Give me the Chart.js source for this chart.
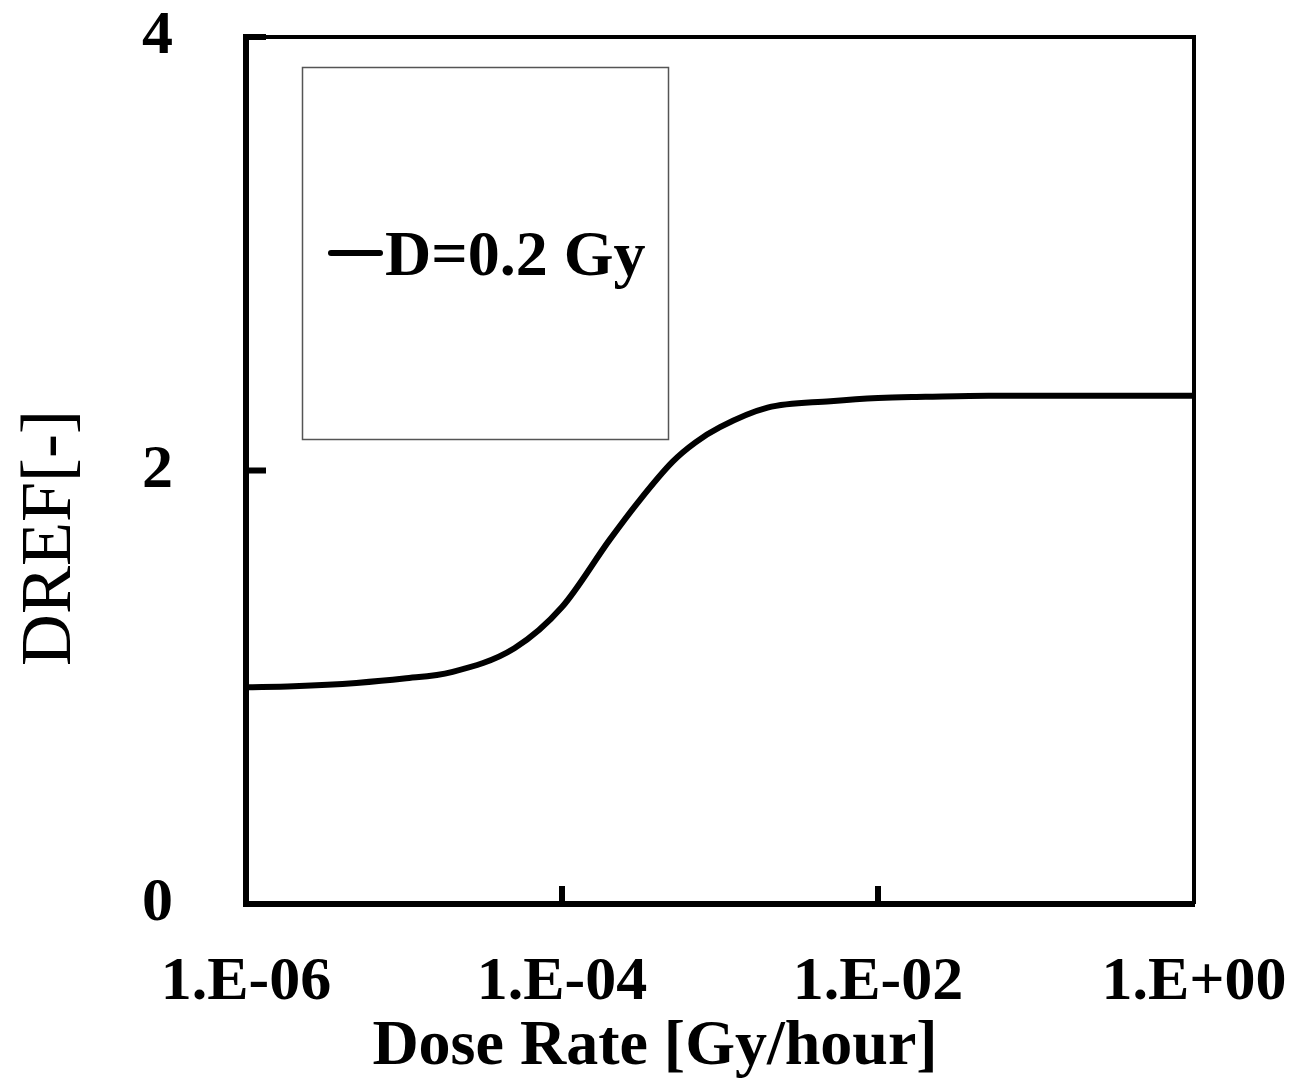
<!DOCTYPE html>
<html>
<head>
<meta charset="utf-8">
<script src="https://cdn.jsdelivr.net/npm/chart.js@4.4.1/dist/chart.umd.min.js"></script>
<style>
  html, body { margin: 0; padding: 0; background: #fff; }
  canvas { display: block; }
</style>
</head>
<body>
<canvas id="doseChart" width="1299" height="1085"></canvas>
<script>
// dose rate [Gy/hour] and DREF
const doseRates = [1e-6, 2e-6, 5e-6, 1e-5, 2e-5, 5e-5, 1e-4, 2e-4, 3e-4, 5e-4, 7e-4, 1e-3, 2e-3, 5e-3, 1e-2, 2e-2, 5e-2, 1e-1, 1]
const drefValues = [1.00, 1.005, 1.02, 1.04, 1.07, 1.18, 1.37, 1.68, 1.85, 2.04, 2.13, 2.20, 2.29, 2.32, 2.335, 2.34, 2.345, 2.345, 2.345]
const seriesLabel = 'D=0.2 Gy'
const xTitle = 'Dose Rate [Gy/hour]'
const yTitle = 'DREF[-]'
const yTicks = [0, 2, 4]
const xLabelPowers = [-6, -4, -2, 0]

const serif = '"Liberation Serif", "Times New Roman", serif'

const fmtExp = v => {
    const p = Math.round(Math.log10(v))
    if (Math.abs(Math.log10(v) - p) > 1e-6 || !xLabelPowers.includes(p)) return null
    const s = p < 0 ? '-' : '+'
    return '1.E' + s + String(Math.abs(p)).padStart(2, '0')
}

// no automatic label overflow padding, plot box is fixed
const noPad = s => {
    s.paddingTop = 0
    s.paddingBottom = 0
    s.paddingLeft = 0
    s.paddingRight = 0
}

// frame, inward ticks, axis titles and the boxed legend
const framePlugin = {
    id: 'frame',
    afterDraw(chart) {
        const { ctx, chartArea: a, scales: { x, y } } = chart
        ctx.save()
        ctx.strokeStyle = '#000'
        ctx.lineWidth = 4
        ctx.beginPath()
        ctx.moveTo(a.left, a.top)
        ctx.lineTo(a.right, a.top)
        ctx.lineTo(a.right, a.bottom)
        ctx.stroke()

        ctx.lineWidth = 6
        ctx.beginPath()
        yTicks.filter(t => t > 0).forEach(t => {
            const py = y.getPixelForValue(t)
            ctx.moveTo(a.left, py)
            ctx.lineTo(a.left + 20, py)
        })
        ;[1e-4, 1e-2].forEach(t => {
            const px = x.getPixelForValue(t)
            ctx.moveTo(px, a.bottom)
            ctx.lineTo(px, a.bottom - 18)
        })
        ctx.stroke()

        ctx.fillStyle = '#000'
        ctx.textBaseline = 'alphabetic'
        ctx.textAlign = 'center'
        ctx.font = 'bold 64px ' + serif
        ctx.fillText(xTitle, 655, 1064)

        ctx.save()
        ctx.translate(70, 538)
        ctx.rotate(-Math.PI / 2)
        ctx.font = '72px ' + serif
        ctx.fillText(yTitle, 0, 0)
        ctx.restore()

        // legend
        ctx.lineWidth = 1.5
        ctx.strokeStyle = '#555'
        ctx.strokeRect(302.5, 67.5, 366, 372)
        ctx.strokeStyle = '#000'
        ctx.lineWidth = 6
        ctx.lineCap = 'round'
        ctx.beginPath()
        ctx.moveTo(331, 253)
        ctx.lineTo(380, 253)
        ctx.stroke()
        ctx.font = 'bold 64px ' + serif
        ctx.textAlign = 'left'
        ctx.fillText(chart.data.datasets[0].label, 385, 275)
        ctx.restore()
    }
}

const data = {
    datasets: [{
        label: seriesLabel,
        data: doseRates.map((d, i) => ({ x: d, y: drefValues[i] })),
        borderColor: '#000',
        borderWidth: 6,
        pointRadius: 0,
        cubicInterpolationMode: 'monotone',
        fill: false
    }]
}

const options = {
    responsive: false,
    animation: false,
    layout: { padding: { top: 37, right: 105, left: 0, bottom: 0 } },
    plugins: {
        legend: { display: false },
        tooltip: { enabled: false }
    },
    scales: {
        x: {
            type: 'logarithmic',
            min: 1e-6,
            max: 1,
            grid: { display: false, drawTicks: false },
            border: { display: true, color: '#000', width: 6 },
            ticks: {
                autoSkip: false,
                maxRotation: 0,
                padding: 42,
                color: '#000',
                font: { family: serif, size: 62, weight: 'bold' },
                callback: v => fmtExp(v)
            },
            afterFit: s => { s.height = 181; noPad(s) }
        },
        y: {
            min: 0,
            max: 4,
            grid: { display: false, drawTicks: false },
            border: { display: true, color: '#000', width: 6 },
            afterBuildTicks: s => { s.ticks = yTicks.map(v => ({ value: v })) },
            ticks: {
                padding: 73,
                color: '#000',
                font: { family: serif, size: 62, weight: 'bold' }
            },
            afterFit: s => { s.width = 246; noPad(s) }
        }
    }
}

new Chart('doseChart', { type: 'line', data, options, plugins: [framePlugin] })
</script>
</body>
</html>
